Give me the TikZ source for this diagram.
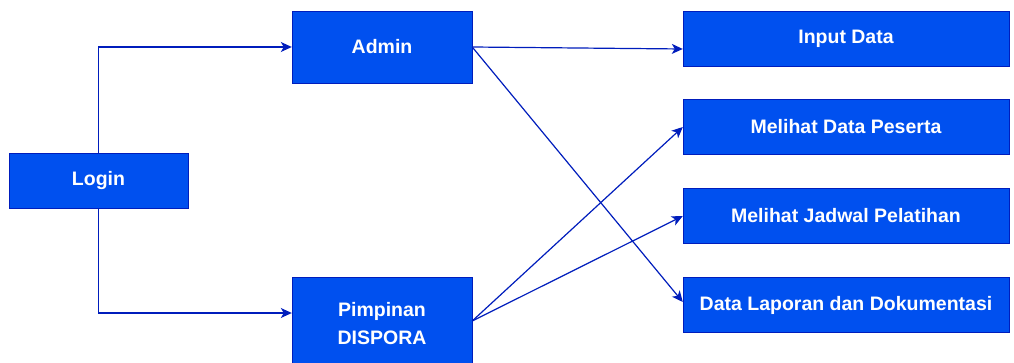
\documentclass[tikz,border=0pt]{standalone}
\usepackage{fontspec}
\setmainfont{Liberation Sans}
\usetikzlibrary{arrows.meta}
\definecolor{boxFill}{HTML}{0050EF}
\definecolor{boxLine}{HTML}{001DBC}
\begin{document}
\begin{tikzpicture}[x=1pt, y=-1pt,
    every node/.style = {shape=rectangle, draw=boxLine, fill=boxFill, text=white,
      align=center, inner sep=0pt, font=\fontsize{19.5}{28}\selectfont\bfseries},
    roleBox/.style = {minimum width=180pt, minimum height=72pt},
    menuBox/.style = {minimum width=326pt, minimum height=55pt},
    flowArrow/.style = {draw=boxLine, line width=1.2pt,
      -{Stealth[length=11pt, width=10pt, inset=3pt]}},
    ]
    \useasboundingbox (0,0) rectangle (1014,363);
    % login and the two roles
    \node [minimum width=179pt, minimum height=55pt] (login) at (98.5,180.5) {Login};
    \node [roleBox] (admin) at (382,47) {Admin};
    \node [roleBox, minimum height=94pt] (pimpinan) at (382,324) {Pimpinan\\DISPORA};
    % menu entries
    \node [menuBox] (inputData) at (846,38.5) {Input Data};
    \node [menuBox] (peserta) at (846,127) {Melihat Data Peserta};
    \node [menuBox] (jadwal) at (846,216) {Melihat Jadwal Pelatihan};
    \node [menuBox] (laporan) at (846,305) {Data Laporan dan Dokumentasi};
    % connectors
    \draw [flowArrow] (login.north) |- (admin.west);
    \draw [flowArrow] (login.south) |- ([yshift=11pt]pimpinan.west);
    \draw [flowArrow] (admin.east) -- ([yshift=-10.5pt]inputData.west);
    \draw [flowArrow] (admin.east) -- ([yshift=3pt]laporan.west);
    \draw [flowArrow] ([yshift=3pt]pimpinan.east) -- (peserta.west);
    \draw [flowArrow] ([yshift=3pt]pimpinan.east) -- (jadwal.west);
\end{tikzpicture}
\end{document}
